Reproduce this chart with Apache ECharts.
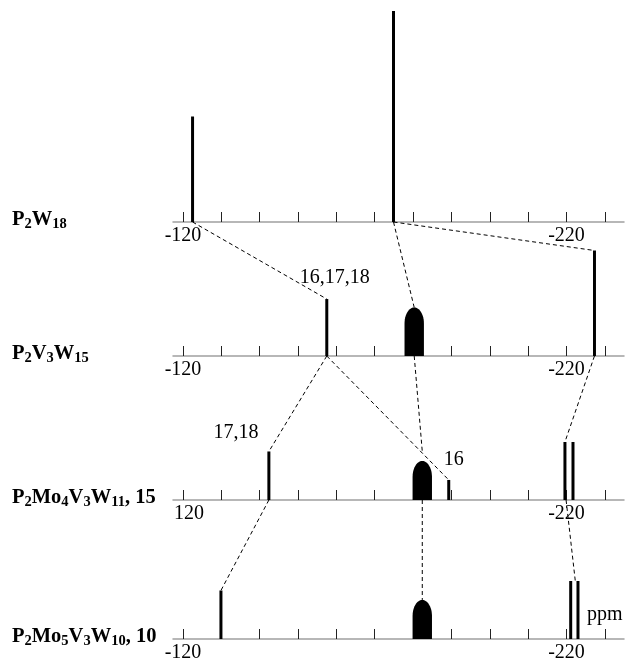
<!DOCTYPE html>
<html>
<head>
<meta charset="utf-8">
<script src="https://cdn.jsdelivr.net/npm/echarts@6/dist/echarts.min.js"></script>
<style>
html, body { margin: 0; padding: 0; background: #fff; }
#main { width: 626px; height: 665px; }
</style>
</head>
<body>
<div id="main"></div>
<script>
// compound names (rich text: b = normal bold, s = subscript)
var compounds = [
    '{b|P}{s|2}{b|W}{s|18}',
    '{b|P}{s|2}{b|V}{s|3}{b|W}{s|15}',
    '{b|P}{s|2}{b|Mo}{s|4}{b|V}{s|3}{b|W}{s|11}{b|, 15}',
    '{b|P}{s|2}{b|Mo}{s|5}{b|V}{s|3}{b|W}{s|10}{b|, 10}'
];

// sharp lines: [ppm, relative intensity]
var sticks = [
    [[-122.5, 50], [-174.9, 100]],
    [[-157.5, 27], [-227.3, 50]],
    [[-142.4, 23], [-189.3, 9.5], [-219.6, 27.5], [-221.7, 27.5]],
    [[-129.9, 23], [-221.1, 27.5], [-223.0, 27.5]]
];

// broad lines: [ppm, relative intensity]
var humps = [
    [],
    [[-180.3, 23]],
    [[-182.4, 18.5]],
    [[-182.4, 18.5]]
];

// assignments: [panel, ppm of line, text]
var tags = [
    [1, -157.5, '16,17,18'],
    [2, -142.4, '17,18'],
    [2, -189.3, '16']
];

// correlations: [panel, ppm, intensity] -> [panel, ppm, intensity]
var links = [
    [0, -122.5, 0, 1, -157.5, 27],
    [0, -174.9, 0, 1, -180.3, 23],
    [0, -174.9, 0, 1, -227.3, 50],
    [1, -157.5, 0, 2, -142.4, 23],
    [1, -157.5, 0, 2, -189.3, 9.5],
    [1, -180.3, 0, 2, -182.4, 23],
    [1, -227.3, 0, 2, -219.6, 27.5],
    [2, -142.4, 0, 3, -129.9, 23],
    [2, -182.4, 0, 3, -182.4, 18.5],
    [2, -219.9, 0, 3, -222.3, 27.5]
];

var tickValues = [-120, -130, -140, -150, -160, -170, -180, -190, -200, -210, -220, -230];
var labelValues = [-120, -220];
var tickLabels = [
    ['-120', '-220'],
    ['-120', '-220'],
    ['120', '-220'],
    ['-120', '-220']
];

var FONT = 'Liberation Serif';
var axisY = [222, 356, 500, 639];
var H = 665, plotH = 211;

var myChart = echarts.init(document.getElementById('main'));

var grids = [], xAxes = [], yAxes = [], series = [];
axisY.forEach(function (y, i) {
    grids.push({left: 173, right: 2, top: y - plotH, bottom: H - y});
    xAxes.push({
        type: 'value', gridIndex: i, inverse: true, min: -235, max: -117.4,
        axisLine: {onZero: false, lineStyle: {color: '#a0a0a0', width: 1.5}},
        axisTick: {inside: true, length: 10, customValues: tickValues, lineStyle: {color: '#222', width: 1}},
        axisLabel: {
            customValues: labelValues, margin: 4, color: '#000',
            fontFamily: FONT, fontSize: 20,
            formatter: function (v) {
                var s = tickLabels[i][labelValues.indexOf(v)];
                return s.charAt(0) === '-' ? s : '{p|' + s + '}';
            },
            rich: {p: {fontFamily: FONT, fontSize: 20, color: '#000', padding: [0, 0, 0, 12]}}
        },
        splitLine: {show: false}
    });
    yAxes.push({type: 'value', gridIndex: i, min: 0, max: 100, show: false});

    series.push({
        type: 'custom', xAxisIndex: i, yAxisIndex: i, data: sticks[i],
        renderItem: function (params, api) {
            var b = api.coord([api.value(0), 0]);
            var t = api.coord([api.value(0), api.value(1)]);
            return {type: 'rect', shape: {x: b[0] - 1.5, y: t[1], width: 3, height: b[1] - t[1]}, style: {fill: '#000'}};
        }
    });
    series.push({
        type: 'custom', xAxisIndex: i, yAxisIndex: i, data: humps[i],
        renderItem: function (params, api) {
            var b = api.coord([api.value(0), 0]);
            var t = api.coord([api.value(0), api.value(1)]);
            var hw = 9.7, dome = 16;
            var pts = [[b[0] - hw, b[1]], [b[0] - hw, t[1] + dome]];
            for (var k = 0; k <= 24; k++) {
                var a = Math.PI - Math.PI * k / 24;
                pts.push([b[0] + hw * Math.cos(a), t[1] + dome - dome * Math.sin(a)]);
            }
            pts.push([b[0] + hw, b[1]]);
            return {type: 'polygon', shape: {points: pts}, style: {fill: '#000'}};
        }
    });
});

myChart.setOption({
    animation: false,
    grid: grids,
    xAxis: xAxes,
    yAxis: yAxes,
    series: series
});

function px(panel, ppm, val) {
    return myChart.convertToPixel({gridIndex: panel}, [ppm, val]);
}

var graphics = [];
links.forEach(function (l) {
    var a = px(l[0], l[1], l[2]), b = px(l[3], l[4], l[5]);
    graphics.push({
        type: 'line', z: 10, silent: true,
        shape: {x1: a[0], y1: a[1], x2: b[0], y2: b[1]},
        style: {stroke: '#000', lineWidth: 1, lineDash: [4, 3]}
    });
});

// assignment labels, placed next to the top of their line
var tagOffset = {'16,17,18': [8, -21], '17,18': [-33, -19], '16': [5, -20]};
tags.forEach(function (t) {
    var item = sticks[t[0]].filter(function (d) { return d[0] === t[1]; })[0];
    var p = px(t[0], item[0], item[1]);
    var o = tagOffset[t[2]];
    graphics.push({
        type: 'text', x: p[0] + o[0], y: p[1] + o[1], z: 11,
        style: {text: t[2], fill: '#000', font: '20px "' + FONT + '"', align: 'center', verticalAlign: 'middle'}
    });
});

// compound names at left
compounds.forEach(function (name, i) {
    graphics.push({
        type: 'text', x: 12, y: axisY[i] - 2, z: 11,
        style: {
            text: name, align: 'left', verticalAlign: 'middle',
            rich: {
                b: {fontFamily: FONT, fontWeight: 'bold', fontSize: 20.5, lineHeight: 23, fill: '#000'},
                s: {fontFamily: FONT, fontWeight: 'bold', fontSize: 14.5, fill: '#000', verticalAlign: 'bottom'}
            }
        }
    });
});

// unit label
var u = px(3, -230, 0);
graphics.push({
    type: 'text', x: u[0], y: u[1] - 24, z: 11,
    style: {text: 'ppm', fill: '#000', font: '20px "' + FONT + '"', align: 'center', verticalAlign: 'middle'}
});

myChart.setOption({graphic: graphics});
</script>
</body>
</html>
